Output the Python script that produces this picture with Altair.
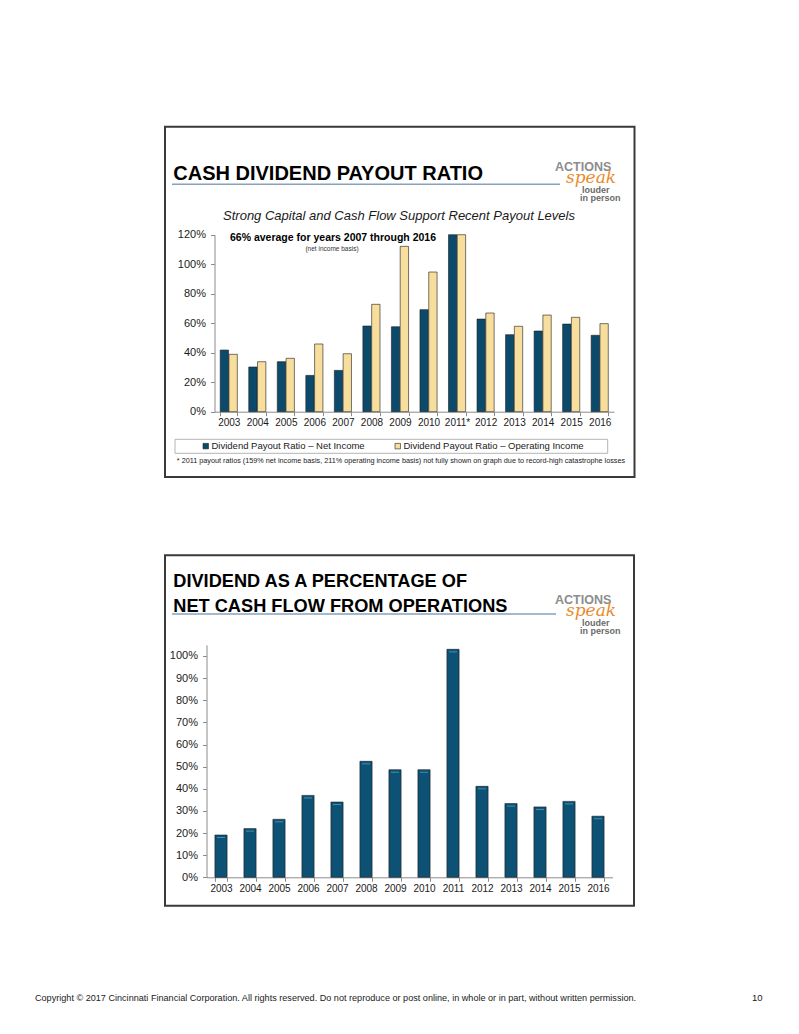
import altair as alt
import pandas as pd

# ---------------- data ----------------
years_top = ["2003", "2004", "2005", "2006", "2007", "2008", "2009", "2010",
             "2011*", "2012", "2013", "2014", "2015", "2016"]
net_income_ratio = [0.418, 0.303, 0.339, 0.246, 0.280, 0.581, 0.576, 0.692,
                    1.59, 0.628, 0.522, 0.547, 0.594, 0.518]
operating_ratio = [0.389, 0.339, 0.362, 0.459, 0.393, 0.728, 1.121, 0.947,
                   2.11, 0.669, 0.579, 0.655, 0.640, 0.597]
series_names = ["Dividend Payout Ratio \u2013 Net Income",
                "Dividend Payout Ratio \u2013 Operating Income"]

years_bottom = ["2003", "2004", "2005", "2006", "2007", "2008", "2009", "2010",
                "2011", "2012", "2013", "2014", "2015", "2016"]
cash_flow_pct = [0.191, 0.220, 0.262, 0.370, 0.340, 0.524, 0.486, 0.486,
                 1.030, 0.411, 0.333, 0.318, 0.343, 0.276]

top_ticks = [0, 0.2, 0.4, 0.6, 0.8, 1.0, 1.2]
bottom_ticks = [0, 0.1, 0.2, 0.3, 0.4, 0.5, 0.6, 0.7, 0.8, 0.9, 1.0]

top_df = pd.DataFrame({
    "year": years_top * 2,
    "series": [series_names[0]] * len(years_top) + [series_names[1]] * len(years_top),
    "value": net_income_ratio + operating_ratio,
})
bottom_df = pd.DataFrame({"year": years_bottom, "value": cash_flow_pct})
one = pd.DataFrame({"k": [0]})

W, H = 783, 1018
FONT = "Liberation Sans"
NAVY = "#0c4a6b"
NAVY2 = "#0d5274"
YELLOW = "#f7de9c"
AXC = "#8c8c8c"

# ---------------- helpers ----------------
def txt(s, x, y, size, bold=False, italic=False, color="#111", align="left", font=FONT):
    return alt.Chart(one).mark_text(
        text=s, align=align, baseline="alphabetic", fontSize=size,
        fontWeight="bold" if bold else "normal",
        fontStyle="italic" if italic else "normal",
        font=font, color=color,
    ).encode(x=alt.value(x), y=alt.value(y))


def box(x1, y1, x2, y2, color="#3a3a3a", width=2):
    return alt.Chart(one).mark_rect(filled=False, stroke=color, strokeWidth=width).encode(
        x=alt.value(x1), x2=alt.value(x2), y=alt.value(y1), y2=alt.value(y2))


def hline(x1, x2, y, color="#86a2bd", width=1.5):
    return alt.Chart(one).mark_rule(color=color, strokeWidth=width).encode(
        x=alt.value(x1), x2=alt.value(x2), y=alt.value(y))


def logo(dy):
    return [
        txt("ACTIONS", 547, 163 + dy, 12.5, bold=True, color="#8d8d8d"),
        txt("speak", 558, 174.5 + dy, 17, italic=True, color="#e98a2c", font="DejaVu Serif"),
        txt("louder", 574, 184.5 + dy, 9, bold=True, color="#6a6a6a"),
        txt("in person", 572, 192.5 + dy, 9, bold=True, color="#6a6a6a"),
    ]


# ---------------- top chart ----------------
top_bars = alt.Chart(top_df).mark_bar(stroke="#1c1c1c", strokeWidth=0.6).encode(
    x=alt.X("year:N", sort=years_top,
            scale=alt.Scale(range=[206.5, 606], paddingInner=0.4, paddingOuter=0.2),
            axis=alt.Axis(orient="bottom", offset=-(H - 403.7), title=None, labelAngle=0,
                          tickBand="extent", tickSize=4, tickColor=AXC, domainColor=AXC,
                          labelFont=FONT, labelFontSize=10, labelColor="#1a1a1a",
                          labelPadding=2)),
    xOffset=alt.XOffset("series:N", sort=series_names, scale=alt.Scale(paddingInner=0.05)),
    y=alt.Y("value:Q",
            scale=alt.Scale(domain=[0, 1.2], range=[403.7, 226.7], clamp=True, nice=False),
            axis=alt.Axis(orient="left", offset=-206.5, title=None, format=".0%",
                          values=top_ticks, grid=False, tickSize=4, tickColor=AXC,
                          domainColor=AXC, labelFont=FONT, labelFontSize=11,
                          labelColor="#1a1a1a", labelPadding=5)),
    color=alt.Color("series:N", sort=series_names,
                    scale=alt.Scale(domain=series_names, range=[NAVY, YELLOW]),
                    legend=alt.Legend(orient="none", legendX=193, legendY=433,
                                      direction="horizontal", title=None,
                                      symbolType="square", symbolSize=30,
                                      symbolStrokeColor="#222", symbolStrokeWidth=0.6,
                                      labelFont=FONT, labelFontSize=9.5,
                                      labelColor="#1a1a1a", columnPadding=28,
                                      labelOffset=1, padding=0, labelLimit=400)),
)

# ---------------- bottom chart ----------------
bottom_base = alt.Chart(bottom_df).encode(
    x=alt.X("year:N", sort=years_bottom,
            scale=alt.Scale(range=[198.5, 604.5], paddingInner=0.58, paddingOuter=0.29),
            axis=alt.Axis(orient="bottom", offset=-(H - 869.3), title=None, labelAngle=0,
                          tickBand="extent", tickSize=4, tickColor=AXC, domainColor=AXC,
                          labelFont=FONT, labelFontSize=10, labelColor="#1a1a1a",
                          labelPadding=2)),
    y=alt.Y("value:Q",
            scale=alt.Scale(domain=[0, 1.05], range=[869.3, 636.9], nice=False),
            axis=alt.Axis(orient="left", offset=-198.5, title=None, format=".0%",
                          values=bottom_ticks, grid=False, tickSize=4, tickColor=AXC,
                          domainColor=AXC, labelFont=FONT, labelFontSize=11,
                          labelColor="#1a1a1a", labelPadding=5)),
)
bottom_bars = bottom_base.mark_bar(color=NAVY2, stroke="#1c1c1c", strokeWidth=0.6)
bottom_hl = bottom_base.mark_tick(color="#5aaad2", thickness=1, size=8, yOffset=2.5)
bottom_chart = alt.layer(bottom_bars, bottom_hl)

layers = [
    box(157, 118.7, 626.5, 469),
    box(157, 547.3, 626, 897.7),
    box(167, 431.3, 599.7, 445.3, color="#b5b5b5", width=1),
    hline(164, 552, 176.3),
    hline(164, 548, 606),
    txt("CASH DIVIDEND PAYOUT RATIO", 165.3, 172, 20, bold=True, color="#000"),
    txt("Strong Capital and Cash Flow Support Recent Payout Levels", 391, 212, 13,
        italic=True, color="#1a1a1a", align="center"),
    txt("66% average for years 2007 through 2016", 325, 232.7, 10.5, bold=True,
        color="#000", align="center"),
    txt("(net income basis)", 324, 242.7, 6.5, color="#333", align="center"),
    txt("* 2011 payout ratios (159% net income basis, 211% operating income basis) not fully "
        "shown on graph due to record-high catastrophe losses", 393, 455.3, 7.25,
        color="#1a1a1a", align="center"),
    txt("DIVIDEND AS A PERCENTAGE OF", 165.3, 578.7, 18.2, bold=True, color="#000"),
    txt("NET CASH FLOW FROM OPERATIONS", 165.3, 603.7, 18.2, bold=True, color="#000"),
    txt("Copyright \u00a9 2017 Cincinnati Financial Corporation. All rights reserved. "
        "Do not reproduce or post online, in whole or in part, without written permission.",
        27, 993, 9.1, color="#1a1a1a"),
    txt("10", 744, 993, 9.5, color="#1a1a1a"),
] + logo(0) + logo(433) + [top_bars, bottom_chart]

chart = alt.layer(*layers).resolve_scale(
    x="independent", y="independent", color="independent"
).properties(
    width=W, height=H, padding=0,
    autosize=alt.AutoSizeParams(type="none"),
).configure_view(stroke=None)

chart.save("out.html", embed_options={"renderer": "svg", "actions": False})
